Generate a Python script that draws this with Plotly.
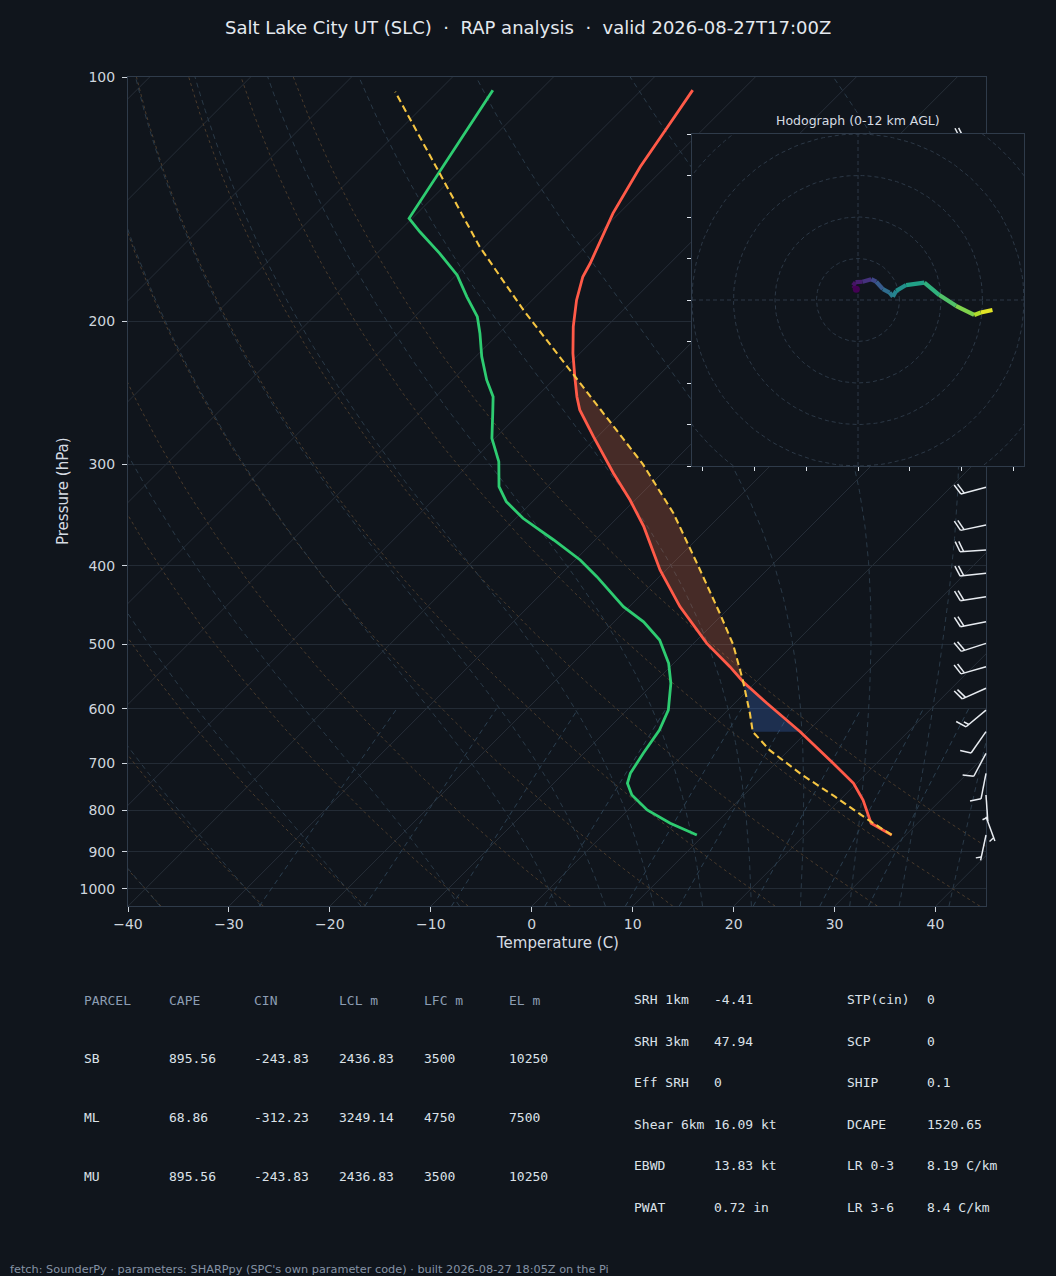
import numpy as np
import plotly.graph_objects as go
from plotly.colors import sample_colorscale

# ---------------- data ----------------
TITLE = "Salt Lake City UT (SLC)  ·  RAP analysis  ·  valid 2026-08-27T17:00Z"
HODO_TITLE = "Hodograph (0-12 km AGL)"
FOOTER = "fetch: SounderPy · parameters: SHARPpy (SPC's own parameter code) · built 2026-08-27 18:05Z on the Pi"
X_LABEL = "Temperature (C)"
Y_LABEL = "Pressure (hPa)"

# environmental temperature (hPa, degC)
env_p = [858.0, 829.9, 777.0, 741.0, 700.1, 640.1, 590.6, 555.6, 532.4, 498.3,
         449.0, 404.7, 357.9, 331.9, 307.6, 277.3, 257.1, 247.6, 233.9, 218.9,
         203.0, 188.3, 176.2, 169.6, 147.2, 129.0, 115.7, 103.8]
env_t = [28.6, 25.4, 22.3, 19.7, 15.7, 9.3, 3.2, -1.3, -4.1, -8.7,
         -15.0, -20.6, -26.5, -30.5, -34.8, -40.4, -44.4, -46.0, -48.2, -50.7,
         -53.3, -55.6, -57.3, -57.9, -60.6, -62.5, -63.7, -64.9]

# dewpoint
dew_p = [858.0, 829.9, 799.3, 766.0, 741.0, 720.3, 680.6, 637.2, 602.1, 558.1,
         527.3, 493.6, 468.7, 449.0, 412.4, 393.4, 371.7, 349.5, 333.4, 319.6,
         297.7, 278.6, 259.5, 247.6, 236.1, 221.0, 206.8, 197.3, 186.5, 175.4,
         164.9, 155.1, 149.3, 103.8]
dew_t = [9.3, 5.5, 1.9, -1.1, -2.7, -3.4, -4.1, -4.8, -5.9, -8.3,
         -10.5, -13.7, -17.1, -20.6, -26.2, -29.5, -34.1, -39.3, -42.6, -44.8,
         -47.3, -50.3, -52.7, -54.3, -56.6, -59.4, -61.9, -63.8, -66.8, -69.9,
         -73.8, -77.9, -80.3, -84.7]

# surface-based parcel
parcel_p = [858.0, 822.2, 769.7, 723.8, 674.5, 640.1, 607.6, 552.9, 499.7, 457.5,
            401.0, 344.5, 299.7, 276.0, 232.8, 193.6, 161.8, 130.2, 104.3]
parcel_t = [28.6, 24.8, 19.2, 13.8, 8.1, 4.6, 2.5, -1.5, -6.0, -10.4,
            -17.1, -24.9, -32.8, -37.9, -48.5, -59.9, -70.5, -82.2, -94.2]
lcl_p, lfc_p, el_p = 640.1, 553.0, 234.0

# wind barbs (hPa, direction from deg, speed kt)
barb_p = [118.2, 320.1, 356.2, 382.3, 408.6, 436.5, 468.7, 498.3, 532.4, 566.0,
          602.1, 640.1, 680.6, 720.3, 766.0, 814.5, 858.0]
barb_dir = [265, 255, 258, 266, 264, 261, 259, 252, 254, 246,
            230, 215, 208, 191, 176, 160, 192]
barb_spd = [20, 20, 20, 20, 20, 20, 20, 20, 20, 20,
            15, 10, 10, 10, 5, 5, 5]

# hodograph (kt) and height (km AGL)
hodo_u = [-0.4, -1.2, -0.6, 1.1, 3.2, 4.4, 6.0, 7.6, 8.4, 9.2, 11.6, 16.0, 19.6, 23.6, 28.0, 29.6, 32.4]
hodo_v = [2.6, 3.5, 4.3, 4.4, 5.0, 4.4, 2.6, 1.8, 0.8, 2.2, 3.6, 4.2, 1.2, -1.4, -3.6, -3.0, -2.4]
hodo_h = [0.0, 0.4, 0.8, 1.2, 2.2, 3.0, 3.8, 4.6, 5.2, 5.6, 6.4, 7.2, 8.2, 9.1, 10.2, 11.0, 12.0]
hodo_rings = [10, 20, 30, 40, 50]
hodo_xticks = [-37.5, -25, -12.5, 0, 12.5, 25, 37.5]
hodo_yticks = [-40, -30, -20, -10, 0, 10, 20, 30, 40]

p_ticks = [100, 200, 300, 400, 500, 600, 700, 800, 900, 1000]
t_ticks = [-40, -30, -20, -10, 0, 10, 20, 30, 40]

parcel_header = ["PARCEL", "CAPE", "CIN", "LCL m", "LFC m", "EL m"]
parcel_rows = [["SB", "895.56", "-243.83", "2436.83", "3500", "10250"],
               ["ML", "68.86", "-312.23", "3249.14", "4750", "7500"],
               ["MU", "895.56", "-243.83", "2436.83", "3500", "10250"]]
idx_labels_a = ["SRH 1km", "SRH 3km", "Eff SRH", "Shear 6km", "EBWD", "PWAT"]
idx_values_a = ["-4.41", "47.94", "0", "16.09 kt", "13.83 kt", "0.72 in"]
idx_labels_b = ["STP(cin)", "SCP", "SHIP", "DCAPE", "LR 0-3", "LR 3-6"]
idx_values_b = ["0", "0", "0.1", "1520.65", "8.19 C/km", "8.4 C/km"]

# ---------------- layout geometry ----------------
W, H = 1056, 1276
BG = "#10151c"
MX0, MX1 = 128, 986          # main plot px
MY0, MY1 = 77, 906.2
P_BOT, P_TOP = 1050.0, 100.0
T_MIN, T_MAX = -40, 45
IX0, IX1, IY0, IY1 = 692, 1024, 134, 466   # hodograph inset px


def xdom(a, b):
    return [a / W, b / W]


def ydom(top, bottom):
    return [1 - bottom / H, 1 - top / H]


PPD = (MY1 - MY0) / np.log10(P_BOT / P_TOP)      # px per decade
PPC = (MX1 - MX0) / (T_MAX - T_MIN)             # px per degC
K = PPD / PPC


def skew(t, p):
    return np.asarray(t, float) + K * (np.log10(P_BOT) - np.log10(np.asarray(p, float)))


def joined(lines):
    xs, ys = [], []
    for x, y in lines:
        xs += list(x) + [None]
        ys += list(y) + [None]
    return xs, ys


fig = go.Figure()

# ---- background: isotherms ----
iso = []
for t0 in range(-120, 50, 10):
    pp = np.array([P_BOT, P_TOP])
    iso.append((skew([t0, t0], pp), pp))
xs, ys = joined(iso)
fig.add_trace(go.Scatter(x=xs, y=ys, mode="lines", line=dict(color="#262e38", width=1),
                         hoverinfo="skip"))

# ---- dry adiabats ----
pgrid = np.geomspace(P_BOT, P_TOP, 90)
dry = []
for t0 in range(-40, 51, 10):
    tt = (t0 + 273.15) * (pgrid / 1000.0) ** 0.2857 - 273.15
    dry.append((skew(tt, pgrid), pgrid))
xs, ys = joined(dry)
fig.add_trace(go.Scatter(x=xs, y=ys, mode="lines",
                         line=dict(color="#4a3b2c", width=1, dash="3px,3px"), hoverinfo="skip"))

# ---- moist adiabats ----
Rd, Cp, Lv = 287.04, 1005.7, 2.501e6


def _dtdp(T, p):
    es = 6.112 * np.exp(17.67 * (T - 273.15) / (T - 29.65))
    rs = 0.622 * es / (p - es)
    return (Rd * T + Lv * rs) / (p * (Cp + Lv * Lv * rs * 0.622 / (Rd * T * T)))


def moist_path(t0):
    def run(pend, dp):
        T, p = t0 + 273.15, 1000.0
        ps, ts = [p], [T]
        while (dp < 0 and p > pend + 1e-9) or (dp > 0 and p < pend - 1e-9):
            k1 = _dtdp(T, p)
            k2 = _dtdp(T + 0.5 * dp * k1, p + 0.5 * dp)
            k3 = _dtdp(T + 0.5 * dp * k2, p + 0.5 * dp)
            k4 = _dtdp(T + dp * k3, p + dp)
            T += dp * (k1 + 2 * k2 + 2 * k3 + k4) / 6
            p += dp
            ps.append(p)
            ts.append(T)
        return ps, ts
    pu, tu = run(P_TOP, -5.0)
    pd, td = run(P_BOT, 5.0)
    ps = np.array(pd[::-1] + pu[1:])
    ts = np.array(td[::-1] + tu[1:]) - 273.15
    return ps, ts


moist = []
for t0 in list(range(-40, 0, 10)) + list(range(0, 46, 5)):
    ps, ts = moist_path(t0)
    moist.append((skew(ts, ps), ps))
xs, ys = joined(moist)
fig.add_trace(go.Scatter(x=xs, y=ys, mode="lines",
                         line=dict(color="#2a3a48", width=1, dash="5px,4px"), hoverinfo="skip"))

# ---- mixing ratio lines ----
mix = []
pm = np.geomspace(P_BOT, 600, 40)
for w in [0.0004, 0.001, 0.002, 0.004, 0.007, 0.01, 0.016, 0.024, 0.032]:
    e = pm * w / (0.622 + w)
    le = np.log(e / 6.112)
    td = 243.5 * le / (17.67 - le)
    mix.append((skew(td, pm), pm))
xs, ys = joined(mix)
fig.add_trace(go.Scatter(x=xs, y=ys, mode="lines",
                         line=dict(color="#2b3f50", width=1, dash="5px,4px"), hoverinfo="skip"))


# ---- CAPE / CIN shading ----
def interp_logp(pq, parr, tarr):
    lp = np.log(np.asarray(parr))[::-1]
    return np.interp(np.log(pq), lp, np.asarray(tarr)[::-1])


def shade(p_lo, p_hi, color):
    pg = np.geomspace(p_lo, p_hi, 120)
    tp = interp_logp(pg, parcel_p, parcel_t)
    te = interp_logp(pg, env_p, env_t)
    x = np.concatenate([skew(tp, pg), skew(te[::-1], pg[::-1])])
    y = np.concatenate([pg, pg[::-1]])
    fig.add_trace(go.Scatter(x=x, y=y, mode="lines", fill="toself", fillcolor=color,
                             line=dict(width=0), hoverinfo="skip"))


shade(lfc_p, el_p, "rgba(230,110,70,0.25)")
shade(lcl_p, lfc_p, "rgba(60,110,200,0.30)")

# ---- profiles ----
fig.add_trace(go.Scatter(x=skew(env_t, env_p), y=env_p, mode="lines",
                         line=dict(color="#ff5a48", width=2.8), hoverinfo="skip"))
fig.add_trace(go.Scatter(x=skew(dew_t, dew_p), y=dew_p, mode="lines",
                         line=dict(color="#2ecc71", width=2.8), hoverinfo="skip"))
fig.add_trace(go.Scatter(x=skew(parcel_t, parcel_p), y=parcel_p, mode="lines",
                         line=dict(color="#f5c542", width=2.1, dash="7px,4px"), hoverinfo="skip"))

# ---- wind barbs (subplot x2/y2, x in px offset from right edge) ----
L_STAFF, SP, F_ALONG, F_PERP = 26.0, 3.6, 4.2, 10.4
bx, by = [], []


def add_pt(p0, sx, sy):
    bx.append(sx)
    by.append(p0 * 10 ** (sy / PPD))


for p0, d, s in zip(barb_p, barb_dir, barb_spd):
    r = np.deg2rad(d)
    ux, uy = np.sin(r), -np.cos(r)
    nx, ny = -uy, ux
    tx, ty = L_STAFF * ux, L_STAFF * uy
    add_pt(p0, 0, 0)
    add_pt(p0, tx, ty)
    bx.append(None); by.append(None)
    nfull = s // 10
    half = (s % 10) >= 5
    pos = 0
    for i in range(nfull):
        sx0, sy0 = tx - pos * SP * ux, ty - pos * SP * uy
        add_pt(p0, sx0, sy0)
        add_pt(p0, sx0 + F_ALONG * ux + F_PERP * nx, sy0 + F_ALONG * uy + F_PERP * ny)
        bx.append(None); by.append(None)
        pos += 1
    if half:
        if nfull == 0:
            pos = 1
        sx0, sy0 = tx - pos * SP * ux, ty - pos * SP * uy
        add_pt(p0, sx0, sy0)
        add_pt(p0, sx0 + 0.5 * (F_ALONG * ux + F_PERP * nx), sy0 + 0.5 * (F_ALONG * uy + F_PERP * ny))
        bx.append(None); by.append(None)

fig.add_trace(go.Scatter(x=bx, y=by, mode="lines", xaxis="x2", yaxis="y2",
                         line=dict(color="#e8ecf1", width=1.5), hoverinfo="skip"))

# ---- hodograph inset (x3/y3) ----
fig.add_trace(go.Scatter(x=[-40, 40, 40, -40, -40], y=[-40, -40, 40, 40, -40], mode="lines",
                         fill="toself", fillcolor=BG, line=dict(width=0),
                         xaxis="x3", yaxis="y3", hoverinfo="skip"))
th = np.linspace(0, 2 * np.pi, 181)
rings = [(r * np.cos(th), r * np.sin(th)) for r in hodo_rings]
xs, ys = joined(rings)
xs += [-40, 40, None, 0, 0]
ys += [0, 0, None, -40, 40]
fig.add_trace(go.Scatter(x=xs, y=ys, mode="lines", xaxis="x3", yaxis="y3",
                         line=dict(color="#2c3846", width=1, dash="4px,3px"), hoverinfo="skip"))
hmax = max(hodo_h)
for i in range(len(hodo_u) - 1):
    c = sample_colorscale("Viridis", [0.5 * (hodo_h[i] + hodo_h[i + 1]) / hmax])[0]
    fig.add_trace(go.Scatter(x=hodo_u[i:i + 2], y=hodo_v[i:i + 2], mode="lines",
                             xaxis="x3", yaxis="y3", line=dict(color=c, width=4.2),
                             hoverinfo="skip"))
fig.add_trace(go.Scatter(x=hodo_u[:1], y=hodo_v[:1], mode="markers", xaxis="x3", yaxis="y3",
                         marker=dict(color=sample_colorscale("Viridis", [0.0])[0], size=7),
                         hoverinfo="skip"))

# ---------------- axes ----------------
FONT = "DejaVu Sans"
MONO = "DejaVu Sans Mono"
TICKC = "#cfd6de"
FRAME = "#2f3b4a"

fig.update_layout(
    width=W, height=H, autosize=False,
    margin=dict(l=0, r=0, t=0, b=0, pad=0, autoexpand=False),
    paper_bgcolor=BG, plot_bgcolor="rgba(0,0,0,0)", showlegend=False,
    font=dict(family=FONT, color=TICKC, size=14),
    xaxis=dict(domain=xdom(MX0, MX1), range=[T_MIN, T_MAX], tickvals=t_ticks,
               ticktext=[str(t).replace("-", "\u2212") for t in t_ticks],
               ticks="outside", ticklen=5, tickcolor=TICKC, tickfont=dict(size=14, color=TICKC),
               showgrid=False, zeroline=False, showline=True, mirror=True, automargin=False,
               linecolor=FRAME, linewidth=1, anchor="y", fixedrange=True),
    yaxis=dict(domain=ydom(MY0, MY1), type="log", range=[np.log10(P_BOT), np.log10(P_TOP)],
               tickvals=p_ticks, ticktext=[str(p) for p in p_ticks],
               ticks="outside", ticklen=5, tickcolor=TICKC, tickfont=dict(size=14, color=TICKC),
               showgrid=True, gridcolor="#232b35", gridwidth=1, zeroline=False, automargin=False,
               showline=True, mirror=True, linecolor=FRAME, linewidth=1, anchor="x",
               ticklabelstandoff=4, fixedrange=True),
    xaxis2=dict(domain=xdom(MX1 - 90, MX1 + 24), range=[-90, 24], visible=False,
                anchor="y2", fixedrange=True, automargin=False),
    yaxis2=dict(domain=ydom(MY0, MY1), type="log", range=[np.log10(P_BOT), np.log10(P_TOP)],
                visible=False, anchor="x2", fixedrange=True, automargin=False),
    xaxis3=dict(domain=xdom(IX0, IX1), range=[-40, 40], tickvals=hodo_xticks,
                showticklabels=False, ticks="outside", ticklen=4, tickcolor="#dde3ea",
                showgrid=False, zeroline=False, showline=True, mirror=True, automargin=False,
                linecolor=FRAME, linewidth=1, anchor="y3", fixedrange=True),
    yaxis3=dict(domain=ydom(IY0, IY1), range=[-40, 40], tickvals=hodo_yticks,
                showticklabels=False, ticks="outside", ticklen=4, tickcolor="#dde3ea",
                showgrid=False, zeroline=False, showline=True, mirror=True, automargin=False,
                linecolor=FRAME, linewidth=1, anchor="x3", fixedrange=True),
)


# ---------------- text ----------------
def ann(text, px, py, size, color, family=FONT, xanchor="left", angle=0):
    fig.add_annotation(text=text, x=px / W, y=1 - py / H, xref="paper", yref="paper",
                       xanchor=xanchor, yanchor="middle", showarrow=False, textangle=angle,
                       borderpad=0, font=dict(size=size, color=color, family=family))


ann(TITLE.replace("  ", "\u00a0\u00a0"), 528, 27, 18, "#e4e9ef", xanchor="center")
ann(HODO_TITLE, 858, 120, 12.5, "#d6dce3", xanchor="center")
ann(X_LABEL, 557, 943, 15, "#d6dce3", xanchor="center")
ann(Y_LABEL, 63, 491, 15, "#d6dce3", xanchor="center", angle=-90)

col_x = [84, 169, 254, 339, 424, 509]
for cx, h in zip(col_x, parcel_header):
    ann(h, cx - 1, 1000, 13, "#8c9db3", MONO)
for ry, row in zip([1058, 1117, 1176], parcel_rows):
    for cx, v in zip(col_x, row):
        ann(v, cx - 1, ry, 13, "#dce2e9", MONO)

row_y = [999, 1041, 1082, 1124, 1165, 1207]
for ry, a, b, c, d in zip(row_y, idx_labels_a, idx_values_a, idx_labels_b, idx_values_b):
    ann(a, 633, ry, 13, "#dce2e9", MONO)
    ann(b, 713, ry, 13, "#dce2e9", MONO)
    ann(c, 846, ry, 13, "#dce2e9", MONO)
    ann(d, 926, ry, 13, "#dce2e9", MONO)

ann(FOOTER, 9, 1269, 11.3, "#8593a5")

PAGE_FIX = ("document.documentElement.style.margin='0';document.documentElement.style.padding='0';"
            "document.body.style.margin='0';document.body.style.padding='0';"
            "document.body.style.overflow='hidden';document.body.style.background='" + BG + "';")

fig.write_html("out.html", config={"responsive": False, "displayModeBar": False},
               post_script=PAGE_FIX)
